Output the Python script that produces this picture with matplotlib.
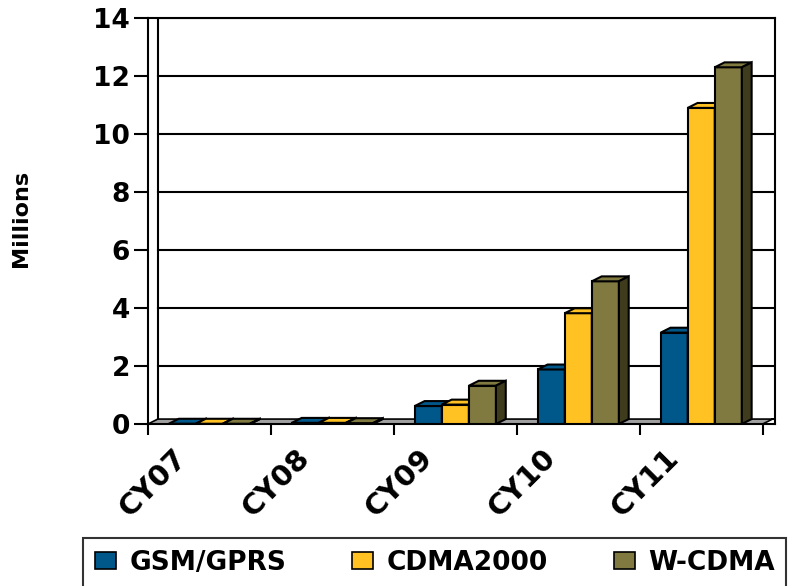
import numpy as np
import matplotlib.pyplot as plt
from matplotlib.patches import Patch

plt.rcParams['font.family'] = ['DejaVu Sans']
plt.rcParams['font.weight'] = 'bold'

years = ['CY07', 'CY08', 'CY09', 'CY10', 'CY11']
gsm = [0.01, 0.04, 0.62, 1.88, 3.15]
cdma = [0.01, 0.04, 0.67, 3.82, 10.9]
wcdma = [0.01, 0.03, 1.32, 4.92, 12.3]

series = [('GSM/GPRS', gsm, '#00578A', '#003A5C'),
          ('CDMA2000', cdma, '#FFC222', '#B8860B'),
          ('W-CDMA', wcdma, '#807A40', '#3F3C1E')]

fig = plt.figure(figsize=(8.01, 5.86), dpi=100)
ax = fig.add_axes([148 / 801, 1 - 424 / 586, (775 - 148) / 801, (424 - 18) / 586])

xmax = 5.1
dx, dy = 0.08, 0.17   # fake 3d depth in data units
width = 0.22

ax.set_xlim(0, xmax)
ax.set_ylim(0, 14)

# back wall grid and floor
for v in range(2, 15, 2):
    ax.plot([dx, xmax], [v, v], color='black', lw=1.5, zorder=1)
ax.plot([dx, dx], [dy, 14], color='black', lw=1.5, zorder=1)
ax.fill([0, 5.0, 5.0 + dx, xmax, dx], [0, 0, dy, dy, dy],
        facecolor='#A0A0A0', edgecolor='black', lw=1.2, zorder=1)

centers = np.arange(len(years)) + 0.5
for i, (name, vals, col, dark) in enumerate(series):
    xs = centers + (i - 1) * width
    for x, v in zip(xs, vals):
        x0, x1 = x - width / 2, x + width / 2
        z = 2 + i
        ax.bar(x, v, width=width, color=col, edgecolor='black', lw=1.5, zorder=z)
        ax.fill([x0, x1, x1 + dx, x0 + dx], [v, v, v + dy, v + dy],
                facecolor=col, edgecolor='black', lw=1.5, zorder=z)
        ax.fill([x1, x1 + dx, x1 + dx, x1], [0, dy, v + dy, v],
                facecolor=dark, edgecolor='black', lw=1.5, zorder=z)

ax.set_xticks(range(6))
ax.set_xticklabels([])
ax.set_xticks(centers - 0.3, minor=True)
ax.set_xticklabels(years, minor=True, rotation=45, ha='right', va='top',
                   rotation_mode='anchor', fontsize=21, fontweight='bold')
ax.tick_params(axis='x', which='minor', length=0, pad=14)
ax.tick_params(axis='x', which='major', length=8, width=1.5, direction='out')
ax.set_yticks(range(0, 15, 2))
ax.tick_params(axis='y', length=10, width=1.5, labelsize=19, pad=3)
for lbl in ax.get_yticklabels():
    lbl.set_fontweight('bold')
for s in ax.spines.values():
    s.set_linewidth(1.5)

fig.text(21 / 801, 1 - 218 / 586, 'Millions', rotation=90, ha='center',
         va='center', fontsize=16, fontweight='bold')

handles = [Patch(facecolor=c, edgecolor='black', lw=1.2, label=n)
           for n, _, c, _ in series]
leg = fig.legend(handles=handles, loc='upper left', ncol=3,
                 bbox_to_anchor=(83 / 801, 1 - 538 / 586), frameon=True,
                 fancybox=False, edgecolor='black', handlelength=0.8,
                 handleheight=0.65, handletextpad=0.5, columnspacing=2.5,
                 borderpad=0.45, borderaxespad=0,
                 prop={'weight': 'bold', 'size': 19})
leg.get_frame().set_linewidth(1.5)

fig.savefig('out.png', dpi=100)
